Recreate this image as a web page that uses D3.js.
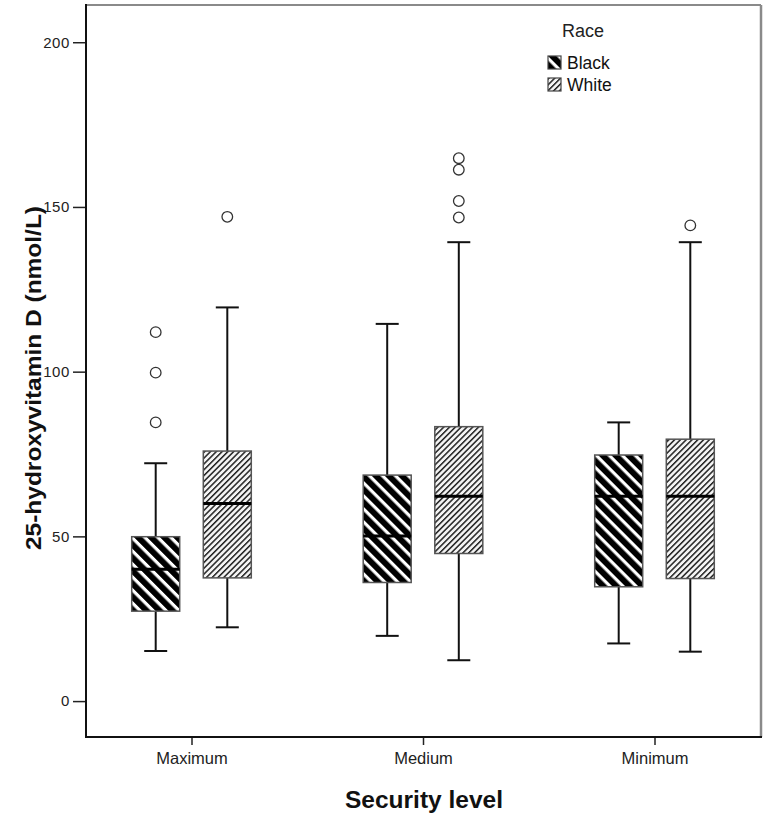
<!DOCTYPE html>
<html>
<head>
<meta charset="utf-8">
<script src="https://cdn.jsdelivr.net/npm/d3@7"></script>
<style>
  html, body { margin: 0; padding: 0; background: #fff; }
  svg { display: block; font-family: "Liberation Sans", Arial, sans-serif; }
</style>
</head>
<body>
<svg id="chart" width="768" height="819"></svg>
<script>
// ---- data ----
const categories = ["Maximum", "Medium", "Minimum"];
const races = ["Black", "White"];
const yTicks = [0, 50, 100, 150, 200];

const blackLow    = [15.2, 19.8, 17.5];
const blackQ1     = [27.3, 36.0, 34.7];
const blackMedian = [40.0, 50.1, 62.2];
const blackQ3     = [49.9, 68.6, 74.7];
const blackHigh   = [72.2, 114.5, 84.6];
const blackOutliers = [[112.0, 99.7, 84.6], [], []];

const whiteLow    = [22.4, 12.4, 15.0];
const whiteQ1     = [37.4, 44.8, 37.2];
const whiteMedian = [60.0, 62.2, 62.2];
const whiteQ3     = [75.9, 83.3, 79.5];
const whiteHigh   = [119.5, 139.3, 139.3];
const whiteOutliers = [[147.0], [164.8, 161.3, 151.8, 146.8], [144.4]];

const xTitle = "Security level";
const yTitle = "25-hydroxyvitamin D (nmol/L)";
const legendTitle = "Race";

// ---- build table ----
const stats = {
  Black: { low: blackLow, q1: blackQ1, med: blackMedian, q3: blackQ3, high: blackHigh, out: blackOutliers },
  White: { low: whiteLow, q1: whiteQ1, med: whiteMedian, q3: whiteQ3, high: whiteHigh, out: whiteOutliers }
};
const boxes = [];
categories.forEach((c, i) => races.forEach(r => {
  const s = stats[r];
  boxes.push({ cat: c, race: r, low: s.low[i], q1: s.q1[i], med: s.med[i], q3: s.q3[i], high: s.high[i], out: s.out[i] });
}));

// ---- layout ----
const L = 86, R = 761, T = 5, B = 737;
const svg = d3.select("#chart");

const y = d3.scaleLinear().domain([-10.9, 211.3]).range([B, T]);
const x = d3.scalePoint().domain(categories).range([191.5, 654.5]);
const xr = d3.scalePoint().domain(races).range([-35.8, 35.8]);
const boxW = 48, capW = 23;

// patterns
const defs = svg.append("defs");
const pb = defs.append("pattern").attr("id", "patBlack").attr("patternUnits", "userSpaceOnUse")
  .attr("width", 9.2).attr("height", 9.2).attr("patternTransform", "rotate(45)");
pb.append("rect").attr("width", 9.2).attr("height", 9.2).attr("fill", "#000");
pb.append("rect").attr("y", 0).attr("width", 9.2).attr("height", 3.2).attr("fill", "#fff");

const pw = defs.append("pattern").attr("id", "patWhite").attr("patternUnits", "userSpaceOnUse")
  .attr("width", 4.1).attr("height", 4.1).attr("patternTransform", "rotate(-45)");
pw.append("rect").attr("width", 4.1).attr("height", 4.1).attr("fill", "#f4f4f4");
pw.append("rect").attr("y", 0).attr("width", 4.1).attr("height", 1.5).attr("fill", "#222");

const fillFor = r => r === "Black" ? "url(#patBlack)" : "url(#patWhite)";

// frame
svg.append("line").attr("x1", L).attr("x2", R).attr("y1", T).attr("y2", T).attr("stroke", "#8a8a8a").attr("stroke-width", 2);
svg.append("line").attr("x1", R).attr("x2", R).attr("y1", T).attr("y2", B).attr("stroke", "#8a8a8a").attr("stroke-width", 2.5);

// y axis
const yAxis = svg.append("g").attr("transform", `translate(${L},0)`)
  .call(d3.axisLeft(y).tickValues(yTicks).tickSize(13).tickSizeOuter(0).tickPadding(3));
yAxis.select(".domain").remove();
yAxis.selectAll(".tick line").attr("stroke", "#222").attr("stroke-width", 1.5);
yAxis.selectAll(".tick text").attr("font-size", 15).attr("fill", "#222")
  .attr("font-family", "Liberation Sans, Arial, sans-serif").attr("letter-spacing", 0.6);

// x axis
const xAxis = svg.append("g").attr("transform", `translate(0,${B})`)
  .call(d3.axisBottom(x).tickSize(8).tickSizeOuter(0).tickPadding(7));
xAxis.select(".domain").remove();
xAxis.selectAll(".tick line").attr("stroke", "#222").attr("stroke-width", 1.5);
xAxis.selectAll(".tick text").attr("font-size", 16.5).attr("fill", "#222")
  .attr("font-family", "Liberation Sans, Arial, sans-serif");

svg.append("line").attr("x1", L).attr("x2", L).attr("y1", T - 1).attr("y2", B + 1).attr("stroke", "#111").attr("stroke-width", 2);
svg.append("line").attr("x1", L - 1).attr("x2", R + 1).attr("y1", B).attr("y2", B).attr("stroke", "#111").attr("stroke-width", 2);

// titles
svg.append("text").attr("x", 424).attr("y", 808).attr("text-anchor", "middle")
  .attr("font-size", 24.5).attr("font-weight", "bold").attr("fill", "#111").text(xTitle);
svg.append("text").attr("transform", `translate(41,378) rotate(-90)`).attr("text-anchor", "middle")
  .attr("font-size", 22).attr("font-weight", "bold").attr("fill", "#111")
  .attr("textLength", 344).attr("lengthAdjust", "spacingAndGlyphs").text(yTitle);

// boxes
const g = svg.append("g");
const bx = d => x(d.cat) + xr(d.race);
const grp = g.selectAll("g.box").data(boxes).join("g").attr("class", "box");

grp.append("line").attr("x1", bx).attr("x2", bx).attr("y1", d => y(d.high)).attr("y2", d => y(d.q3))
  .attr("stroke", "#111").attr("stroke-width", 2);
grp.append("line").attr("x1", bx).attr("x2", bx).attr("y1", d => y(d.q1)).attr("y2", d => y(d.low))
  .attr("stroke", "#111").attr("stroke-width", 2);
grp.append("line").attr("x1", d => bx(d) - capW / 2).attr("x2", d => bx(d) + capW / 2)
  .attr("y1", d => y(d.high)).attr("y2", d => y(d.high)).attr("stroke", "#111").attr("stroke-width", 2);
grp.append("line").attr("x1", d => bx(d) - capW / 2).attr("x2", d => bx(d) + capW / 2)
  .attr("y1", d => y(d.low)).attr("y2", d => y(d.low)).attr("stroke", "#111").attr("stroke-width", 2);
grp.append("rect").attr("x", d => bx(d) - boxW / 2).attr("width", boxW)
  .attr("y", d => y(d.q3)).attr("height", d => y(d.q1) - y(d.q3))
  .attr("fill", d => fillFor(d.race)).attr("stroke", "#555").attr("stroke-width", 1.5);
grp.append("line").attr("x1", d => bx(d) - boxW / 2).attr("x2", d => bx(d) + boxW / 2)
  .attr("y1", d => y(d.med)).attr("y2", d => y(d.med)).attr("stroke", "#000").attr("stroke-width", 3);
grp.selectAll("circle").data(d => d.out.map(v => ({ v, cx: bx(d) }))).join("circle")
  .attr("cx", d => d.cx).attr("cy", d => y(d.v)).attr("r", 5.3)
  .attr("fill", "#fff").attr("stroke", "#333").attr("stroke-width", 1.3);

// legend
const lg = svg.append("g");
lg.append("text").attr("x", 583).attr("y", 37).attr("text-anchor", "middle").attr("font-size", 18).attr("fill", "#222").text(legendTitle);
const li = lg.selectAll("g.li").data(races).join("g").attr("class", "li")
  .attr("transform", (d, i) => `translate(548,${56 + i * 22})`);
li.append("rect").attr("width", 13).attr("height", 13).attr("fill", d => fillFor(d)).attr("stroke", "#444").attr("stroke-width", 1.2);
li.append("text").attr("x", 19).attr("y", 13).attr("font-size", 17.5).attr("fill", "#111").text(d => d);
</script>
</body>
</html>
